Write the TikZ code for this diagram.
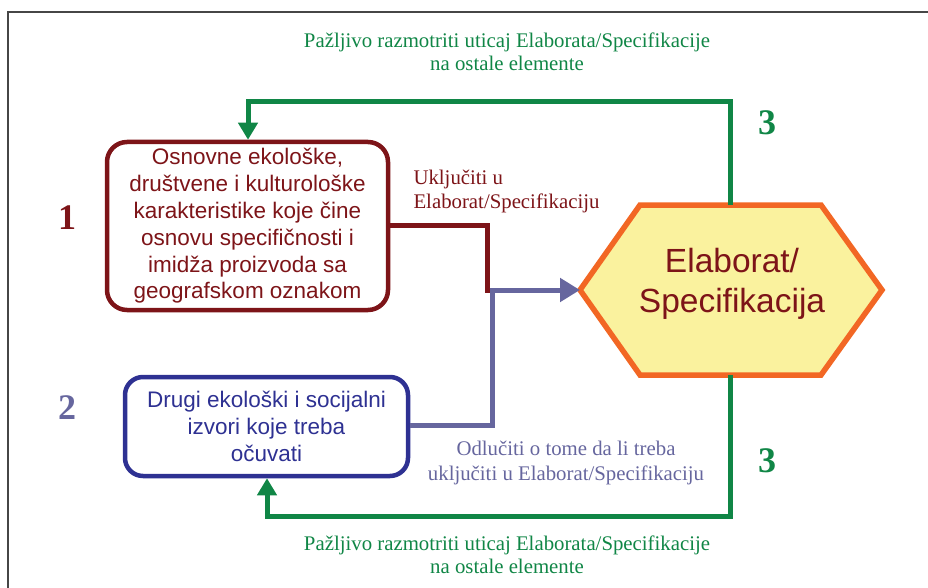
\documentclass[tikz,border=0pt]{standalone}
\usepackage{fontspec}
\setmainfont{Liberation Serif}
\setsansfont{Liberation Sans}
\usetikzlibrary{arrows.meta}

\definecolor{darkred}{RGB}{125,20,24}
\definecolor{boxblue}{RGB}{46,49,146}
\definecolor{linkpurple}{RGB}{102,102,158}
\definecolor{loopgreen}{RGB}{16,134,70}
\definecolor{hexorange}{RGB}{242,103,36}
\definecolor{hexfill}{RGB}{250,242,158}
\definecolor{framegray}{RGB}{70,70,70}

\tikzset{
  sourcebox/.style={draw, line width=4.5pt, rounded corners=20pt, align=center,
    font=\sffamily\fontsize{22.5}{26.8}\selectfont, inner sep=0pt},
  steplabel/.style={font=\bfseries\fontsize{36}{36}\selectfont},
  note/.style={font=\fontsize{20.8}{22.5}\selectfont, align=center},
  greenloop/.style={draw=loopgreen, line width=5pt, -{Triangle[length=17pt,width=19pt]}},
  feedline/.style={line width=5pt}
}

\begin{document}
\begin{tikzpicture}[x=1pt,y=-1pt]
\useasboundingbox (0,0) rectangle (928,588);

% outer frame (open to the right and bottom)
\draw[framegray, line width=1.6pt] (8,588) -- (8,12) -- (928,12);

% source boxes
\node[sourcebox, draw=darkred, text=darkred, minimum width=281pt, minimum height=168pt]
  (src1) at (247.5,226) {Osnovne ekološke,\\društvene i kulturološke\\karakteristike koje čine\\osnovu specifičnosti i\\imidža proizvoda sa\\geografskom oznakom};
\node[sourcebox, draw=boxblue, text=boxblue, rounded corners=18pt, minimum width=283pt, minimum height=99pt]
  (src2) at (266.5,426.5) {Drugi ekološki i socijalni\\izvori koje treba\\očuvati};

% hexagon
\coordinate (hL) at (580,290);
\coordinate (hR) at (882,290);
\filldraw[draw=hexorange, fill=hexfill, line width=5.5pt, line join=miter]
  (hL) -- (640,205) -- (821,205) -- (hR) -- (821,375) -- (640,375) -- cycle;
\node[text=darkred, font=\sffamily\fontsize{33.5}{40}\selectfont, align=center] (spec) at (732,284) {Elaborat/\\Specifikacija};
\coordinate (hTop) at (730,205);
\coordinate (hBot) at (730,375);

% feed lines into the hexagon
\coordinate (join) at (492,290);
\draw[darkred, feedline] (src1.east |- 0,225) -- (487,225) -- (487,292.5);
\draw[linkpurple, feedline] (src2.east |- 0,425) -- (492,425) -- (join);
\draw[linkpurple, feedline, -{Triangle[length=20pt,width=23pt]}] (489.5,290) -- (hL);

% feedback loops
\draw[greenloop] (hTop) -- (730,102) -- (248,102) -- (src1.north -| 248,0);
\draw[greenloop] (hBot) -- (730,516) -- (267,516) -- (src2.south -| 267,0);

% step numbers
\node[steplabel, text=darkred] (n1) at (67,218) {1};
\node[steplabel, text=linkpurple] (n2) at (67,408) {2};
\node[steplabel, text=loopgreen] (n3a) at (767,123) {3};
\node[steplabel, text=loopgreen] (n3b) at (767,461) {3};

% notes
\node[note, text=loopgreen] (topnote) at (507,52) {Pažljivo razmotriti uticaj Elaborata/Specifikacije\\na ostale elemente};
\node[note, text=loopgreen] (botnote) at (507,555) {Pažljivo razmotriti uticaj Elaborata/Specifikacije\\na ostale elemente};
\node[note, text=darkred, align=left, anchor=west, font=\fontsize{20.8}{24}\selectfont] (incl) at (410,191) {Uključiti u\\Elaborat/Specifikaciju};
\node[note, text=linkpurple, font=\fontsize{20.8}{25}\selectfont] (decide) at (566,463) {Odlučiti o tome da li treba\\uključiti u Elaborat/Specifikaciju};
\end{tikzpicture}
\end{document}
